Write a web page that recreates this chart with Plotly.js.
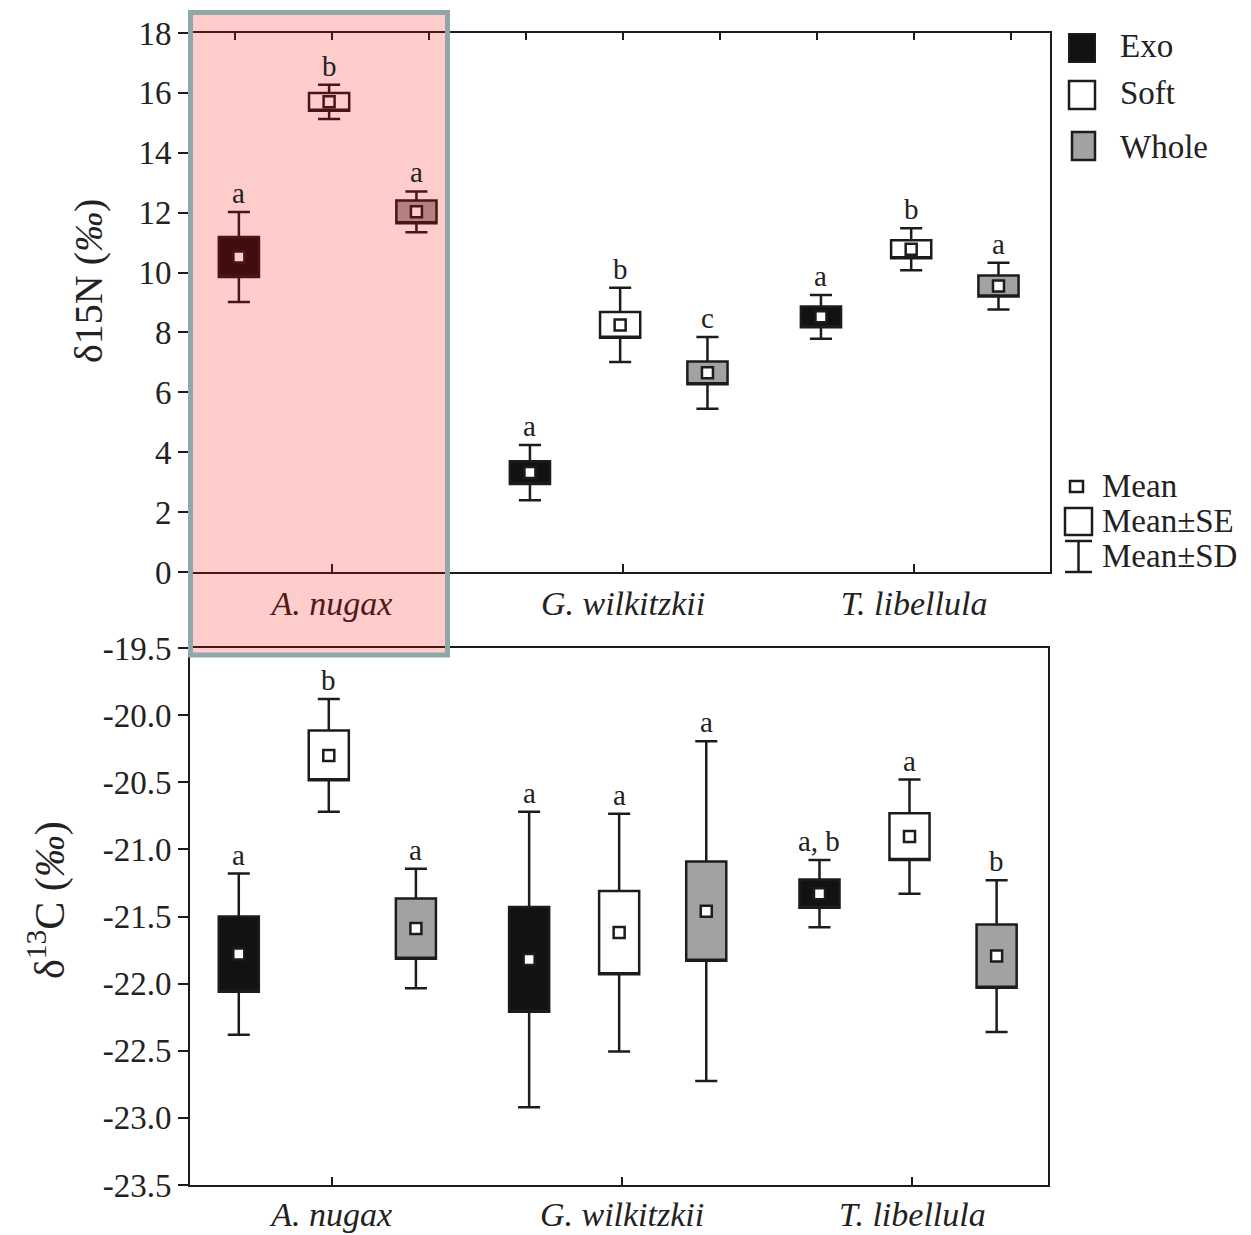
<!DOCTYPE html>
<html>
<head>
<meta charset="utf-8">
<script src="https://cdn.plot.ly/plotly-3.0.1.min.js"></script>
<style>html,body{margin:0;padding:0;background:#fff;}#chart{width:1251px;height:1235px;}</style>
</head>
<body>
<div id="chart"></div>
<script>
// ---------- data ----------
const species = ['A. nugax', 'G. wilkitzkii', 'T. libellula'];
const tissues = ['Exo', 'Soft', 'Whole'];

// delta 15N (‰): mean, SE, SD per tissue, ordered by species
const N_exo_mean   = [10.52, 3.32, 8.52];
const N_exo_se     = [0.67, 0.38, 0.35];
const N_exo_sd     = [1.50, 0.92, 0.73];
const N_soft_mean  = [15.70, 8.25, 10.78];
const N_soft_se    = [0.30, 0.43, 0.30];
const N_soft_sd    = [0.57, 1.24, 0.70];
const N_whole_mean = [12.03, 6.65, 9.55];
const N_whole_se   = [0.38, 0.38, 0.35];
const N_whole_sd   = [0.68, 1.20, 0.78];
const N_exo_letters   = ['a', 'a', 'a'];
const N_soft_letters  = ['b', 'b', 'b'];
const N_whole_letters = ['a', 'c', 'a'];

// delta 13C (‰)
const C_exo_mean   = [-21.78, -21.82, -21.33];
const C_exo_se     = [0.28, 0.39, 0.105];
const C_exo_sd     = [0.60, 1.10, 0.25];
const C_soft_mean  = [-20.30, -21.62, -20.905];
const C_soft_se    = [0.185, 0.31, 0.175];
const C_soft_sd    = [0.42, 0.885, 0.425];
const C_whole_mean = [-21.59, -21.46, -21.795];
const C_whole_se   = [0.225, 0.37, 0.235];
const C_whole_sd   = [0.445, 1.265, 0.565];
const C_exo_letters   = ['a', 'a', 'a, b'];
const C_soft_letters  = ['b', 'a', 'a'];
const C_whole_letters = ['a', 'a', 'b'];

// tick labels and titles
const N_tickvals = [0, 2, 4, 6, 8, 10, 12, 14, 16, 18];
const N_ticktext = ['0', '2', '4', '6', '8', '10', '12', '14', '16', '18'];
const C_tickvals = [-23.5, -23.0, -22.5, -22.0, -21.5, -21.0, -20.5, -20.0, -19.5];
const C_ticktext = ['-23.5', '-23.0', '-22.5', '-22.0', '-21.5', '-21.0', '-20.5', '-20.0', '-19.5'];
const N_title = 'δ15N (<i>‰</i>)';
const C_title = 'δ<sup>13</sup>C (<i>‰</i>)';
const legendMain = ['Exo', 'Soft', 'Whole'];
const legendStats = ['Mean', 'Mean±SE', 'Mean±SD'];

// ---------- styles ----------
const FONT = "'Liberation Serif', 'Times New Roman', Times, serif";
const INK = '#1c1c1c';
const fills = {Exo: '#121212', Soft: '#ffffff', Whole: '#a2a2a2'};
const offsets = {Exo: -0.32, Soft: -0.01, Whole: 0.29};
const BOXW = 0.138;
const XR = [-0.488, 2.467];

const W = 1251, H = 1235, ML = 190, MR = 201, MT = 33, MB = 50;
const PW = W - ML - MR, PH = H - MT - MB;
const px2x = p => (p - ML) / PW;
const px2y = p => (H - MB - p) / PH;

const sets = {
  N: {
    Exo: [N_exo_mean, N_exo_se, N_exo_sd, N_exo_letters],
    Soft: [N_soft_mean, N_soft_se, N_soft_sd, N_soft_letters],
    Whole: [N_whole_mean, N_whole_se, N_whole_sd, N_whole_letters]
  },
  C: {
    Exo: [C_exo_mean, C_exo_se, C_exo_sd, C_exo_letters],
    Soft: [C_soft_mean, C_soft_se, C_soft_sd, C_soft_letters],
    Whole: [C_whole_mean, C_whole_se, C_whole_sd, C_whole_letters]
  }
};

const traces = [];
const annotations = [];
[['N', 'x', 'y'], ['C', 'x2', 'y2']].forEach(([key, xa, ya]) => {
  tissues.forEach(t => {
    const [m, se, sd, let_] = sets[key][t];
    const xs = species.map((s, i) => i + offsets[t]);
    traces.push({
      type: 'box', name: t, xaxis: xa, yaxis: ya,
      x: xs,
      q1: m.map((v, i) => v - se[i]),
      median: m.map((v, i) => v - se[i]),
      q3: m.map((v, i) => v + se[i]),
      lowerfence: m.map((v, i) => v - sd[i]),
      upperfence: m.map((v, i) => v + sd[i]),
      width: BOXW, whiskerwidth: 0.55,
      fillcolor: fills[t],
      line: {color: INK, width: 2.5},
      boxpoints: false, hoverinfo: 'skip', showlegend: false
    });
    traces.push({
      type: 'scatter', mode: 'markers', xaxis: xa, yaxis: ya,
      x: xs, y: m,
      marker: {symbol: 'square', size: 11, color: '#ffffff', line: {color: INK, width: 2.5}},
      hoverinfo: 'skip', showlegend: false
    });
    xs.forEach((xv, i) => {
      annotations.push({
        xref: xa, yref: ya, x: xv, y: m[i] + sd[i], text: let_[i],
        showarrow: false, yanchor: 'bottom', yshift: 1,
        font: {family: FONT, size: 29, color: '#222'}
      });
    });
  });
});
// empty trace so the top tick axis of the upper panel is drawn
traces.push({type: 'scatter', mode: 'markers', xaxis: 'x3', yaxis: 'y', x: [null], y: [null],
  hoverinfo: 'skip', showlegend: false});

// y-axis titles
annotations.push({xref: 'paper', yref: 'paper', x: px2x(88), y: px2y(281), text: N_title, textangle: -90,
  xanchor: 'center', yanchor: 'middle', showarrow: false, font: {family: FONT, size: 40, color: '#222'}});
annotations.push({xref: 'paper', yref: 'paper', x: px2x(47), y: px2y(900), text: C_title, textangle: -90,
  xanchor: 'center', yanchor: 'middle', showarrow: false, font: {family: FONT, size: 42, color: '#222'}});

// legend text
const legTextStyle = {family: FONT, size: 33, color: '#222'};
[[1118, 46], [1118, 93], [1118, 147]].forEach((p, i) => {
  annotations.push({xref: 'paper', yref: 'paper', x: px2x(p[0]), y: px2y(p[1]), xanchor: 'left', yanchor: 'middle',
    text: legendMain[i], showarrow: false, font: legTextStyle});
});
[[1100, 486], [1100, 521], [1100, 556]].forEach((p, i) => {
  annotations.push({xref: 'paper', yref: 'paper', x: px2x(p[0]), y: px2y(p[1]), xanchor: 'left', yanchor: 'middle',
    text: legendStats[i], showarrow: false, font: legTextStyle});
});

const rectPx = (x0, y0, x1, y1, fill, lw, lc) => ({
  type: 'rect', xref: 'paper', yref: 'paper',
  x0: px2x(x0), x1: px2x(x1), y0: px2y(y1), y1: px2y(y0),
  fillcolor: fill, line: {color: lc || INK, width: lw}, layer: 'above'
});
const linePx = (x0, y0, x1, y1) => ({
  type: 'line', xref: 'paper', yref: 'paper',
  x0: px2x(x0), x1: px2x(x1), y0: px2y(y0), y1: px2y(y1),
  line: {color: INK, width: 2.5}, layer: 'above'
});

const shapes = [
  // legend swatches
  rectPx(1069, 34, 1095, 62, fills.Exo, 2),
  rectPx(1069, 81, 1095, 109, fills.Soft, 2.5),
  rectPx(1072, 132, 1095, 160, fills.Whole, 2.5),
  // statistics key
  rectPx(1070, 481, 1083, 492, '#ffffff', 2.5),
  rectPx(1065, 508, 1092, 535, '#ffffff', 2.5),
  linePx(1078.5, 541, 1078.5, 572),
  linePx(1065, 541, 1092, 541),
  linePx(1065, 572, 1092, 572),
  // highlight overlay
  {type: 'rect', xref: 'paper', yref: 'paper', x0: px2x(190), x1: px2x(448), y0: px2y(656), y1: px2y(12),
    fillcolor: 'rgba(255,0,0,0.2)', line: {width: 0}, layer: 'above'},
  {type: 'rect', xref: 'paper', yref: 'paper', x0: px2x(190.5), x1: px2x(447.5), y0: px2y(655), y1: px2y(12.5),
    fillcolor: 'rgba(0,0,0,0)', line: {color: '#8fa7a8', width: 5}, layer: 'above'}
];

const topTicks = [-0.333, 0, 0.333, 0.667, 1, 1.333, 1.667, 2, 2.333];

const axisLine = {showline: true, linecolor: INK, linewidth: 2, showgrid: false, zeroline: false};
const tickF = {family: FONT, size: 33, color: '#222'};
const catF = {family: FONT, size: 34, color: '#222', style: 'italic'};

const layout = {
  width: W, height: H,
  margin: {l: ML, r: MR, t: MT, b: MB, pad: 0},
  paper_bgcolor: '#ffffff', plot_bgcolor: 'rgba(0,0,0,0)',
  showlegend: false, boxmode: 'overlay',
  xaxis: Object.assign({}, axisLine, {domain: [0, 1], anchor: 'y', range: XR,
    tickmode: 'array', tickvals: [0, 1, 2], ticktext: species, ticks: 'inside', ticklen: 8, tickwidth: 2,
    tickcolor: INK, tickfont: catF, ticklabelstandoff: 0}),
  xaxis3: Object.assign({}, axisLine, {overlaying: 'x', side: 'top', anchor: 'y', range: XR,
    tickmode: 'array', tickvals: topTicks, ticks: 'inside', ticklen: 7, tickwidth: 2,
    tickcolor: INK, showticklabels: false}),
  yaxis: Object.assign({}, axisLine, {domain: [(H - MB - 572) / PH, 1], anchor: 'x', range: [0, 18],
    tickmode: 'array', tickvals: N_tickvals, ticktext: N_ticktext, ticks: 'outside', ticklen: 10, tickwidth: 2,
    tickcolor: INK, tickfont: tickF, mirror: true}),
  xaxis2: Object.assign({}, axisLine, {domain: [0, 858 / 860], anchor: 'y2', range: XR,
    tickmode: 'array', tickvals: [0, 1, 2], ticktext: species, ticks: 'inside', ticklen: 8, tickwidth: 2,
    tickcolor: INK, tickfont: catF, ticklabelstandoff: -2, mirror: true}),
  yaxis2: Object.assign({}, axisLine, {domain: [0, (1185 - 648) / PH], anchor: 'x2', range: [-23.5, -19.5],
    tickmode: 'array', tickvals: C_tickvals, ticktext: C_ticktext, ticks: 'outside', ticklen: 10, tickwidth: 2,
    tickcolor: INK, tickfont: tickF, mirror: true}),
  shapes: shapes,
  annotations: annotations
};

Plotly.newPlot('chart', traces, layout, {staticPlot: true, displayModeBar: false});
</script>
</body>
</html>
